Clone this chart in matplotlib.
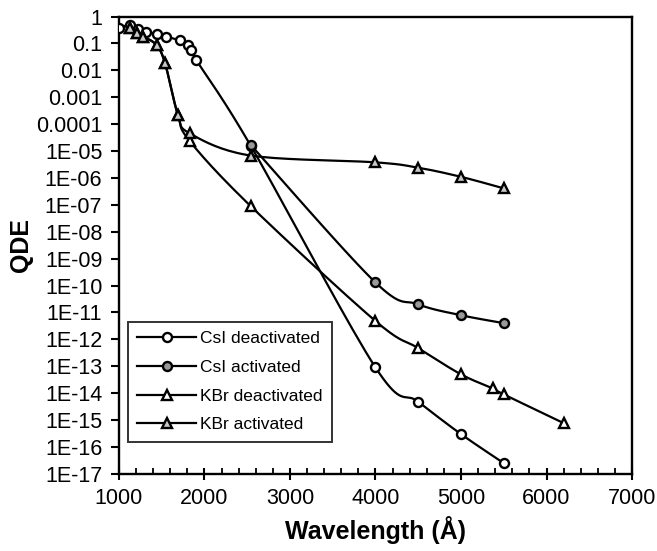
import numpy as np
import matplotlib
matplotlib.use('Agg')
import matplotlib.pyplot as plt
from matplotlib.ticker import FixedLocator, FixedFormatter, MultipleLocator

plt.rcParams['font.family'] = ['Liberation Sans', 'DejaVu Sans']

# data (wavelength in Angstrom, QDE)
csi_deact_x = [1000, 1130, 1220, 1320, 1440, 1555, 1710, 1810, 1840, 1905, 2540, 4000, 4500, 5000, 5500]
csi_deact_y = [0.36, 0.5, 0.35, 0.26, 0.23, 0.18, 0.13, 0.087, 0.056, 0.024, 1.6e-5, 9e-14, 4.8e-15, 3e-16, 2.5e-17]

csi_act_x = [2540, 4000, 4500, 5000, 5500]
csi_act_y = [1.7e-5, 1.3e-10, 2.0e-11, 7.9e-12, 4e-12]

kbr_deact_x = [1130, 1215, 1285, 1440, 1540, 1690, 1830, 2540, 4000, 4500, 5000, 5370, 5500, 6200]
kbr_deact_y = [0.36, 0.25, 0.18, 0.087, 0.018, 2.2e-4, 2.3e-5, 9e-8, 4.8e-12, 4.7e-13, 5e-14, 1.5e-14, 9e-15, 7.7e-16]

kbr_act_x = [1130, 1215, 1285, 1440, 1540, 1690, 1830, 2540, 4000, 4500, 5000, 5500]
kbr_act_y = [0.36, 0.25, 0.18, 0.087, 0.018, 2.2e-4, 4.5e-5, 6.8e-6, 3.8e-6, 2.4e-6, 1.1e-6, 4.1e-7]

ytick_vals = [10.0 ** -k for k in range(0, 18)]
ytick_labels = ['1', '0.1', '0.01', '0.001', '0.0001'] + ['1E-%02d' % k for k in range(5, 18)]


def smooth(x, y, n=20):
    # Catmull-Rom curve through the points, in screen-like (x, log y) space
    px = np.asarray(x, float) / 1000.0
    py = np.log10(np.asarray(y, float)) / 3.0
    P = np.column_stack([px, py])
    P = np.vstack([P[0], P, P[-1]])
    out = []
    t = np.linspace(0, 1, n)
    for i in range(1, len(P) - 2):
        p0, p1, p2, p3 = P[i - 1], P[i], P[i + 1], P[i + 2]
        for tt in t:
            pt = 0.5 * ((2 * p1) + (-p0 + p2) * tt + (2 * p0 - 5 * p1 + 4 * p2 - p3) * tt ** 2
                        + (-p0 + 3 * p1 - 3 * p2 + p3) * tt ** 3)
            out.append(pt)
    out = np.array(out)
    return out[:, 0] * 1000.0, 10.0 ** (out[:, 1] * 3.0)


fig = plt.figure(figsize=(6.57, 5.51), dpi=100)
ax = fig.add_axes([0.181, 0.140, 0.781, 0.830])

series = [
    (csi_deact_x, csi_deact_y, 'o', 6.5, 'white', 'CsI deactivated'),
    (csi_act_x, csi_act_y, 'o', 6.5, '#999999', 'CsI activated'),
    (kbr_deact_x, kbr_deact_y, '^', 7.5, 'white', 'KBr deactivated'),
    (kbr_act_x, kbr_act_y, '^', 7.5, '#c8c8c8', 'KBr activated'),
]

handles = []
for x, y, m, ms, fc, lab in series:
    sx, sy = smooth(x, y)
    ax.plot(sx, sy, color='black', lw=1.6, zorder=2)
    ax.plot(x, y, linestyle='none', marker=m, ms=ms, mfc=fc, mec='black', mew=1.7, zorder=3)
    h, = ax.plot([], [], color='black', lw=1.6, marker=m, ms=ms, mfc=fc, mec='black', mew=1.7, label=lab)
    handles.append(h)

ax.set_yscale('log')
ax.set_xlim(1000, 7000)
ax.set_ylim(1e-17, 1)
ax.yaxis.set_major_locator(FixedLocator(ytick_vals))
ax.yaxis.set_major_formatter(FixedFormatter(ytick_labels))
ax.yaxis.set_minor_locator(FixedLocator([]))
ax.xaxis.set_major_locator(MultipleLocator(1000))
ax.xaxis.set_minor_locator(MultipleLocator(200))

ax.tick_params(axis='y', which='major', direction='out', length=6, width=1.5, labelsize=15.5, pad=6)
ax.tick_params(axis='x', which='major', direction='inout', length=9, width=1.5, labelsize=15.5, pad=6)
ax.tick_params(axis='x', which='minor', direction='in', length=4, width=1.3)
for s in ax.spines.values():
    s.set_linewidth(1.7)

ax.set_xlabel('Wavelength (Å)', fontsize=18, fontweight='bold', labelpad=5)
ax.set_ylabel('QDE', fontsize=18, fontweight='bold', labelpad=2)

leg = ax.legend(handles=handles, loc='lower left', bbox_to_anchor=(0.0175, 0.07),
                borderaxespad=0, fontsize=12.5, frameon=True, fancybox=False,
                edgecolor='black', labelspacing=0.78, handlelength=3.4, handletextpad=0.2,
                borderpad=0.55)
leg.get_frame().set_linewidth(1.4)

fig.savefig('out.png', dpi=100)
